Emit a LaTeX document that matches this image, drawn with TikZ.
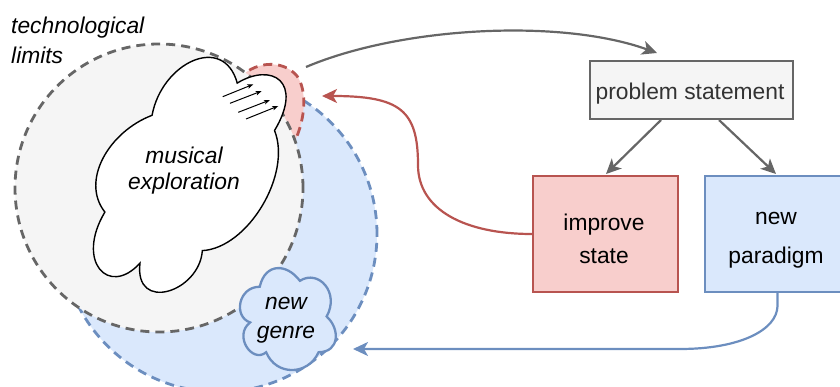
\documentclass[tikz,border=0pt]{standalone}
\usepackage{fontspec}
\setmainfont{Liberation Sans}
\usetikzlibrary{arrows.meta,calc}

\definecolor{grayline}{HTML}{666666}
\definecolor{grayfill}{HTML}{F5F5F5}
\definecolor{redline}{HTML}{B85450}
\definecolor{redfill}{HTML}{F8CECC}
\definecolor{blueline}{HTML}{6C8EBF}
\definecolor{bluefill}{HTML}{DAE8FC}
\definecolor{textgray}{HTML}{333333}

% Cloud outline: #1 path options, #2 width, #3 height,
% drawn from the top-left corner of its box with y pointing down
\newcommand{\cloudoutline}[3]{%
  \path[#1] ({0.25*#2},{0.25*#3})
    .. controls ({0.05*#2},{0.25*#3}) and (0,{0.5*#3}) .. ({0.16*#2},{0.55*#3})
    .. controls (0,{0.66*#3}) and ({0.18*#2},{0.9*#3}) .. ({0.31*#2},{0.8*#3})
    .. controls ({0.4*#2},#3) and ({0.7*#2},#3) .. ({0.8*#2},{0.8*#3})
    .. controls (#2,{0.8*#3}) and (#2,{0.6*#3}) .. ({0.875*#2},{0.5*#3})
    .. controls (#2,{0.3*#3}) and ({0.8*#2},{0.1*#3}) .. ({0.625*#2},{0.2*#3})
    .. controls ({0.5*#2},{0.05*#3}) and ({0.3*#2},{0.05*#3}) .. ({0.25*#2},{0.25*#3})
    -- cycle;}

\begin{document}
\begin{tikzpicture}[x=1pt,y=-1pt,
  region/.style={line width=2.8pt, dash pattern=on 9pt off 6pt},
  boxnode/.style={line width=2pt, minimum width=145pt, minimum height=116pt, inner sep=0pt},
  txt/.style={font=\fontsize{22.8}{27.4}\selectfont, inner sep=0pt, align=center},
  conn/.style={line width=2.2pt, -{Stealth[length=15pt, width=14pt, inset=4pt]}},
  hint/.style={line width=1pt, -{Stealth[length=6pt, width=4.5pt, inset=1.5pt]}}]

\useasboundingbox (0,0) rectangle (840,387);
\clip (0,0) rectangle (840,387);

% overlapping regions: new-genre space, improvement zone, technological limits
\path[region, draw=blueline, fill=bluefill] (219,234) circle[radius=158pt];
\path[region, draw=redline, fill=redfill]
  (238,80) .. controls (252,62) and (282,58) .. (297,76)
  .. controls (307,90) and (306,118) .. (294,143) -- (262,128) -- cycle;
\path[region, draw=grayline, fill=grayfill] (159,188) circle[radius=144pt];

% clouds
\cloudoutline{draw=blueline, fill=bluefill, line width=2.3pt, shift={(233,257)}}{107}{119}
\cloudoutline{draw=black, fill=white, line width=1.4pt, shift={(182,175)}, rotate=59, shift={(-143,-94)}}{286}{188}

% push towards the limit
\draw[hint] (222.7,96.7) -- (253.3,84.3);
\draw[hint] (230,103.3) -- (261.7,91);
\draw[hint] (238.3,112.3) -- (270,100);
\draw[hint] (246,119) -- (278.3,106);

% labels of the regions
\node[txt, font=\fontsize{22.8}{29.4}\selectfont\itshape, align=left, anchor=north west]
  (limitstxt) at (11,17) {technological\\limits};
\node[txt, font=\fontsize{22.8}{26}\selectfont\itshape] (musicaltxt) at (184,170.6) {musical\\exploration};
\node[txt, font=\fontsize{22.8}{29.3}\selectfont\itshape] (genretxt) at (286,320) {new\\genre};

% boxes
\node[boxnode, draw=grayline, fill=grayfill, minimum width=203pt, minimum height=58pt] (problem) at (691.5,90) {};
\node[boxnode, draw=redline, fill=redfill] (improve) at (605.5,234) {};
\node[boxnode, draw=blueline, fill=bluefill] (paradigm) at (777.5,234) {};

\node[txt, text=textgray, anchor=base] (problemtxt) at (690,100) {problem statement};
\node[txt, font=\fontsize{22.8}{33.5}\selectfont] (improvetxt) at (604,238.7) {improve\\state};
\node[txt, font=\fontsize{22.8}{39.3}\selectfont] (paradigmtxt) at (776,240) {new\\paradigm};

% free ends of the connectors
\coordinate (limitsedge) at (306,67);
\coordinate (problemin) at (657,53);
\coordinate (redtip) at (322,96);
\coordinate (bluetip) at (353,349);

% connectors
\draw[conn, grayline] (limitsedge) .. controls (400,27) and (560,18) .. (problemin);
\draw[conn, grayline] ($(problem.south west)+(72,0)$) -- ($(improve.north west)+(74,-1)$);
\draw[conn, grayline] ($(problem.south west)+(130,0)$) -- ($(paradigm.north west)+(72,-1)$);
\draw[conn, redline] (improve.west) .. controls (465,234) and (418,210) .. (418,165)
  .. controls (418,110) and (400,96) .. (redtip);
\draw[conn, blueline] (paradigm.south) -- ++(0,13) .. controls (777,330) and (740,349) .. (680,349) -- (bluetip);

\end{tikzpicture}
\end{document}
